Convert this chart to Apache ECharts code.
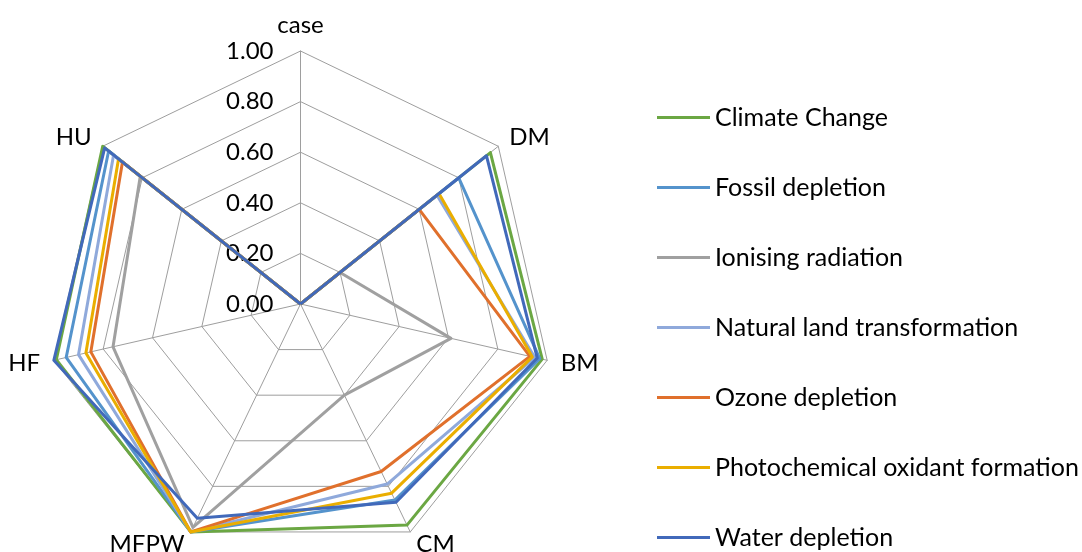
<!DOCTYPE html>
<html><head><meta charset="utf-8">
<script src="https://cdn.jsdelivr.net/npm/echarts@6/dist/echarts.min.js"></script>
<style>html,body{margin:0;padding:0;background:#fff}#c{width:1082px;height:552px}</style>
</head><body><div id="c"></div>
<script>
// Axes in clockwise order starting at the top
const categories = ['case', 'DM', 'BM', 'CM', 'MFPW', 'HF', 'HU'];
const tickLabels = ['0.00', '0.20', '0.40', '0.60', '0.80', '1.00'];
const seriesNames = ['Climate Change', 'Fossil depletion', 'Ionising radiation', 'Natural land transformation', 'Ozone depletion', 'Photochemical oxidant formation', 'Water depletion'];

const climateChange      = [0, 0.96, 0.98, 0.97, 1.00, 0.99, 1.00];
const fossilDepletion    = [0, 0.80, 0.97, 0.86, 1.00, 0.95, 0.97];
const ionisingRadiation  = [0, 0.20, 0.61, 0.40, 0.98, 0.76, 0.81];
const naturalLand        = [0, 0.69, 0.95, 0.79, 1.00, 0.90, 0.945];
const ozoneDepletion     = [0, 0.60, 0.93, 0.735, 1.00, 0.85, 0.90];
const photochemical      = [0, 0.70, 0.94, 0.83, 1.00, 0.87, 0.92];
const waterDepletion     = [0, 0.94, 0.96, 0.87, 0.94, 1.00, 0.99];

const seriesValues = [climateChange, fossilDepletion, ionisingRadiation, naturalLand, ozoneDepletion, photochemical, waterDepletion];
const colors = ['#6BA743', '#5493CC', '#A0A0A0', '#8FA9DB', '#E0702C', '#EAAE00', '#4169BA'];

// ECharts lays indicators counter-clockwise; reorder so the picture reads clockwise
const order = [0].concat(categories.slice(1).map((_, i) => categories.length - 1 - i));

const FONT = 'Lato';
const indicator = order.map((idx, k) => {
  const ind = { name: categories[idx], min: 0, max: 1 };
  if (k === 0) ind.axisLabel = { show: true };
  return ind;
});

const chart = echarts.init(document.getElementById('c'), null, { renderer: 'canvas' });
chart.setOption({
  backgroundColor: '#fff',
  animation: false,
  color: colors,
  textStyle: { fontFamily: FONT },
  legend: {
    orient: 'vertical',
    left: 657,
    top: 105,
    height: 447,
    padding: 0,
    itemWidth: 53,
    itemHeight: 3,
    itemGap: 45,
    icon: 'rect',
    data: seriesNames,
    textStyle: { fontFamily: FONT, fontSize: 25, color: '#000', lineHeight: 25 }
  },
  radar: {
    center: [300.5, 304],
    radius: 253,
    startAngle: 90,
    shape: 'polygon',
    splitNumber: 5,
    indicator: indicator,
    axisName: { color: '#000', fontSize: 24, fontFamily: FONT },
    nameGap: 14,
    axisLine: { lineStyle: { color: '#9E9E9E', width: 1 } },
    splitLine: { lineStyle: { color: '#9E9E9E', width: 1 } },
    splitArea: { show: false },
    axisTick: { show: false },
    axisLabel: {
      show: false,
      fontSize: 24,
      fontFamily: FONT,
      color: '#000',
      margin: 27,
      formatter: function (v) { return tickLabels[Math.round(v * 5)] || v.toFixed(2); }
    }
  },
  series: seriesNames.map((name, i) => ({
    type: 'radar',
    name: name,
    symbol: 'none',
    lineStyle: { width: 3, color: colors[i] },
    itemStyle: { color: colors[i] },
    data: [{ name: name, value: order.map(idx => seriesValues[i][idx]) }]
  }))
});
</script></body></html>
